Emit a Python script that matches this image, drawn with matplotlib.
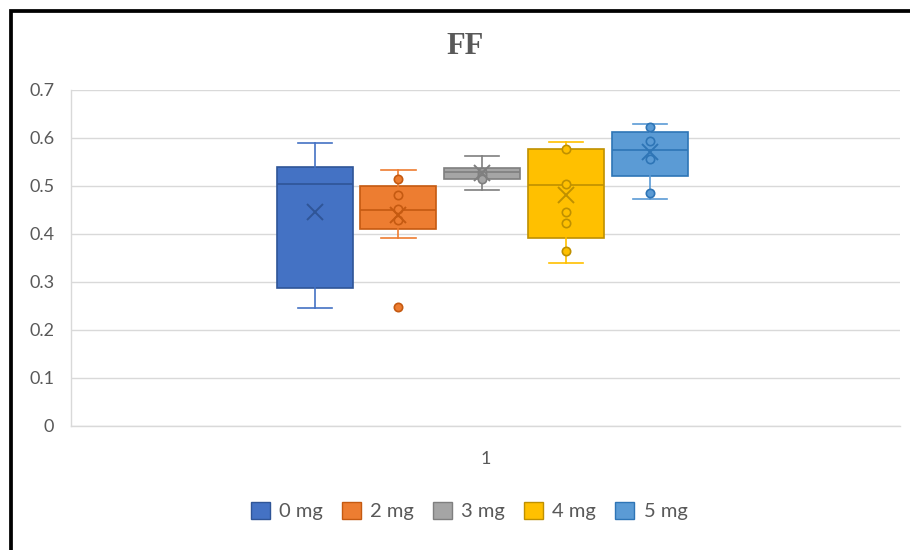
import matplotlib
matplotlib.use("Agg")
import matplotlib.pyplot as plt
import matplotlib.patches as patches
import numpy as np

plt.rcParams["font.family"] = ["Lato", "DejaVu Sans"]

# data
groups = ["0 mg", "2 mg", "3 mg", "4 mg", "5 mg"]
q1 = [0.287, 0.410, 0.515, 0.392, 0.521]
med = [0.505, 0.451, 0.530, 0.503, 0.574]
q3 = [0.540, 0.500, 0.538, 0.578, 0.612]
whislo = [0.246, 0.392, 0.491, 0.339, 0.473]
whishi = [0.590, 0.533, 0.563, 0.591, 0.630]
means = [0.445, 0.440, 0.527, 0.481, 0.570]
points = [
    [],
    [0.514, 0.481, 0.452, 0.429],
    [0.530, 0.522, 0.514],
    [0.578, 0.504, 0.445, 0.423, 0.364],
    [0.622, 0.594, 0.556, 0.486],
]
outliers = [[], [0.247], [], [], []]

fills = ["#4472C4", "#ED7D31", "#A5A5A5", "#FFC000", "#5B9BD5"]
edges = ["#2F5597", "#C55A11", "#7F7F7F", "#BF9000", "#2E75B6"]
txt = "#595959"

fig = plt.figure(figsize=(9.1, 5.5), dpi=100)
ax = fig.add_axes([71 / 910, 124 / 550, 829 / 910, 336 / 550])

spacing = 0.101
width = 0.0917
center = -0.004
pos = center + (np.arange(len(groups)) - 2) * spacing

for i in range(len(groups)):
    st = [{"q1": q1[i], "med": med[i], "q3": q3[i], "whislo": whislo[i],
           "whishi": whishi[i], "mean": means[i], "fliers": []}]
    wc = fills[i] if i != 2 else edges[i]
    ax.bxp(st, positions=[pos[i]], widths=width, patch_artist=True,
           showmeans=False, showfliers=False, manage_ticks=False,
           boxprops=dict(facecolor=fills[i], edgecolor=edges[i], linewidth=1.2),
           medianprops=dict(color=edges[i], linewidth=1.2),
           whiskerprops=dict(color=wc, linewidth=1.2),
           capprops=dict(color=wc, linewidth=1.2),
           capwidths=width * 0.45)
    pts = points[i] + outliers[i]
    if pts:
        ax.plot([pos[i]] * len(pts), pts, "o", ms=6, mfc=fills[i], mec=edges[i],
                mew=1.2, zorder=4)
    ax.plot(pos[i], means[i], "x", ms=12, mew=1.4, color=edges[i], zorder=5)

ax.set_xlim(-0.5, 0.5)
ax.set_ylim(0, 0.7)
ax.set_yticks(np.arange(0, 0.71, 0.1))
ax.set_yticklabels(["0", "0.1", "0.2", "0.3", "0.4", "0.5", "0.6", "0.7"])
ax.set_xticks([0.0])
ax.set_xticklabels(["1"])
ax.tick_params(axis="y", length=0, pad=12, labelsize=13, labelcolor=txt)
ax.tick_params(axis="x", length=0, pad=18, labelsize=13, labelcolor=txt)
ax.grid(True, axis="y", color="#d9d9d9", linewidth=1)
ax.set_axisbelow(True)
for s in ["top", "right"]:
    ax.spines[s].set_visible(False)
for s in ["left", "bottom"]:
    ax.spines[s].set_color("#d9d9d9")
    ax.spines[s].set_linewidth(1)

fig.text(465 / 910, 1 - 47 / 550, "FF", ha="center", va="center", fontsize=22,
         fontweight="bold", color=txt, family="Liberation Serif")

handles = [patches.Patch(facecolor=fills[i], edgecolor=edges[i], linewidth=1)
           for i in range(len(groups))]
fig.legend(handles, groups, loc="center", bbox_to_anchor=(469 / 910, 39 / 550),
           ncol=5, frameon=False, fontsize=14.5, labelcolor=txt,
           handlelength=0.95, handleheight=0.95, handletextpad=0.45,
           columnspacing=0.95)

# black frame of the screenshot, cut off on right and bottom
fig.patches.append(patches.Rectangle((11 / 910, -0.05), 1.2, 1 - 11 / 550 + 0.05,
                                     transform=fig.transFigure, fill=False,
                                     edgecolor="black", linewidth=2.7))

fig.savefig("out.png", dpi=100)
